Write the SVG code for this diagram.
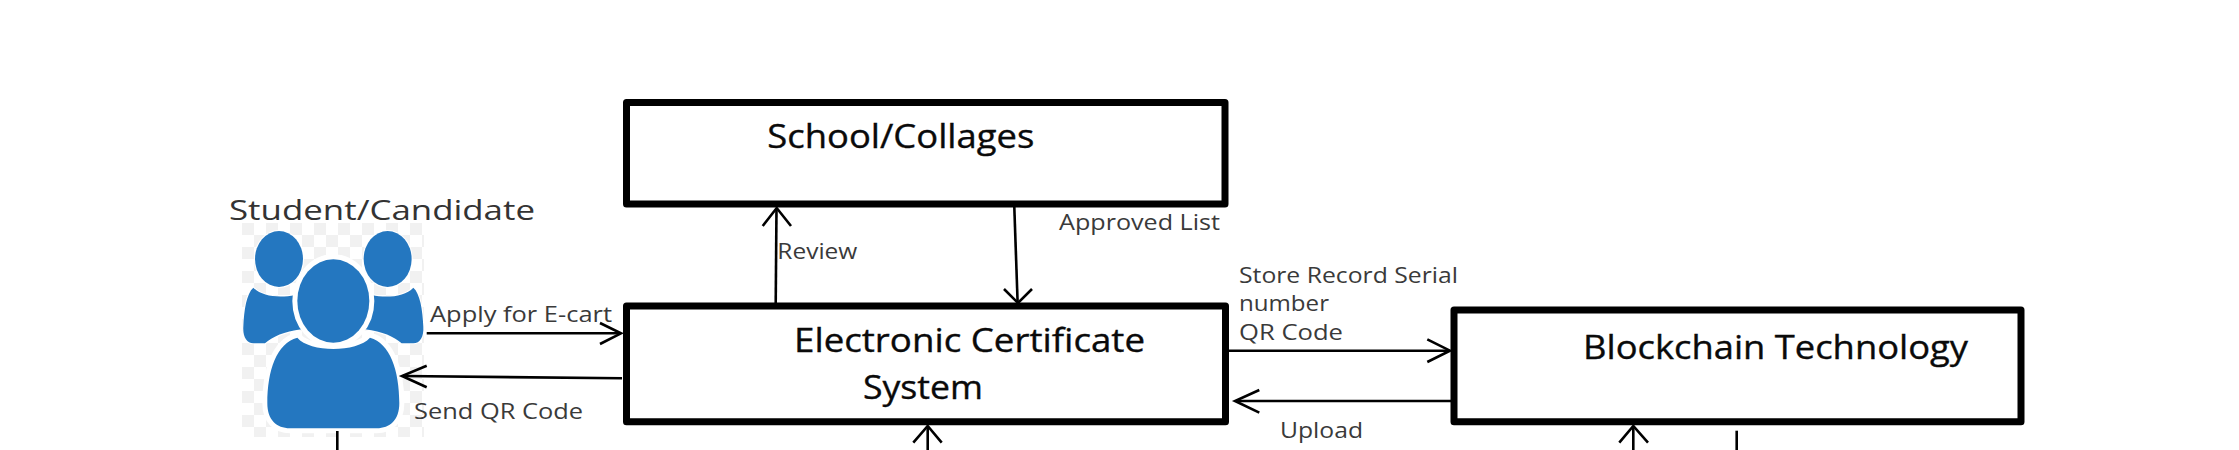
<svg xmlns="http://www.w3.org/2000/svg" width="2239" height="450" viewBox="0 0 2239 450">
<style>
text{font-family:"Open Sans","Noto Sans","Liberation Sans",sans-serif}
.box{fill:#fff;stroke:#000;stroke-width:7;stroke-linejoin:round}
.t{font-size:32px;fill:#0a0a0a;stroke:#0a0a0a;stroke-width:.35}
.l{font-size:22px;fill:#3a3a3a}
.c{fill:none;stroke:#000;stroke-width:2.6}
.h{fill:none;stroke:#000;stroke-width:2.6;stroke-linejoin:miter}
.u{fill:#2477c0;stroke:#fff;stroke-width:6;paint-order:stroke}
.f{stroke-width:30}
</style>
<defs>
<pattern id="chk" width="24" height="24" patternUnits="userSpaceOnUse" x="242" y="223">
<rect width="12" height="12" fill="#f1f1f1"/><rect x="12" y="12" width="12" height="12" fill="#f1f1f1"/>
</pattern>
</defs>
<rect width="2239" height="450" fill="#fff"/>
<g id="student">
<rect x="242" y="223" width="182" height="214" fill="url(#chk)"/>
<g transform="translate(220 170) scale(.3333)">
<ellipse class="u" cx="177" cy="267" rx="72" ry="84"/>
<ellipse class="u" cx="503" cy="267" rx="72" ry="84"/>
<path class="u" d="M100,353C125,380 180,385 225,375C225,420 235,455 245,478C190,485 160,500 135,520L100,520C80,520 68,500 70,470C72,420 80,370 100,353Z"/>
<path class="u" d="M580,353C555,380 500,385 455,375C455,420 445,455 435,478C490,485 520,500 545,520L580,520C600,520 612,500 610,470C608,420 600,370 580,353Z"/>
<ellipse class="u f" cx="340" cy="393" rx="108" ry="125"/>
<path class="u f" d="M232,503C270,548 410,548 450,503C510,520 538,600 538,700C538,750 510,775 470,775L210,775C170,775 142,750 142,700C142,600 170,520 232,503Z"/>
</g>
<text x="229" y="220" font-size="28" fill="#333" textLength="306" lengthAdjust="spacingAndGlyphs">Student/Candidate</text>
</g>
<g id="school">
<rect class="box" x="626.500" y="102.500" width="598.500" height="101.500"/>
<text class="t" x="767.300" y="148.300" textLength="267" lengthAdjust="spacingAndGlyphs">School/Collages</text>
</g>
<g id="ecs">
<rect class="box" x="626.500" y="306" width="599" height="115.700"/>
<text class="t" x="794" y="351.700" textLength="351" lengthAdjust="spacingAndGlyphs">Electronic Certificate</text>
<text class="t" x="863" y="399.300" textLength="120" lengthAdjust="spacingAndGlyphs">System</text>
</g>
<g id="blockchain">
<rect class="box" x="1454" y="310" width="567" height="111.700"/>
<text class="t" x="1583" y="359.300" textLength="385" lengthAdjust="spacingAndGlyphs">Blockchain Technology</text>
</g>
<g id="connectors">
<path class="c" d="M775.700,304L776.500,208"/><path class="h" d="M762.700,226L776.700,208L791,226"/>
<path class="c" d="M1014.300,207L1017.600,302"/><path class="h" d="M1004,289L1018,303L1032,289"/>
<path class="c" d="M426.700,333.300H620"/><path class="h" d="M600,323L621,333.300L600,344"/>
<path class="c" d="M622,378.300L403,376"/><path class="h" d="M426.700,365.700L402,376L426.700,387.300"/>
<path class="c" d="M1229,350.700H1449"/><path class="h" d="M1427.300,339.300L1450,350.700L1427.300,362"/>
<path class="c" d="M1451,401H1236"/><path class="h" d="M1259.300,390L1235,401L1259.300,412.700"/>
<path class="c" d="M927.700,426V450"/><path class="h" d="M913.300,442.700L927.700,426L941.700,442.700"/>
<path class="c" d="M1633.300,426V450"/><path class="h" d="M1619.300,442.700L1633.300,426L1648,442.700"/>
<path class="c" d="M1736.700,430.700V450"/>
<path class="c" d="M337.300,431V450"/>
</g>
<g id="labels">
<text class="l" x="430" y="321.700" textLength="182" lengthAdjust="spacingAndGlyphs">Apply for E-cart</text>
<text class="l" x="414" y="419" textLength="169" lengthAdjust="spacingAndGlyphs">Send QR Code</text>
<text class="l" x="777.300" y="259" textLength="80" lengthAdjust="spacingAndGlyphs">Review</text>
<text class="l" x="1059" y="230" textLength="161" lengthAdjust="spacingAndGlyphs">Approved List</text>
<text class="l" x="1239" y="283" textLength="219" lengthAdjust="spacingAndGlyphs">Store Record Serial</text>
<text class="l" x="1239" y="310.700" textLength="90" lengthAdjust="spacingAndGlyphs">number</text>
<text class="l" x="1239" y="340" textLength="104" lengthAdjust="spacingAndGlyphs">QR Code</text>
<text class="l" x="1280" y="438" textLength="83" lengthAdjust="spacingAndGlyphs">Upload</text>
</g>
</svg>
